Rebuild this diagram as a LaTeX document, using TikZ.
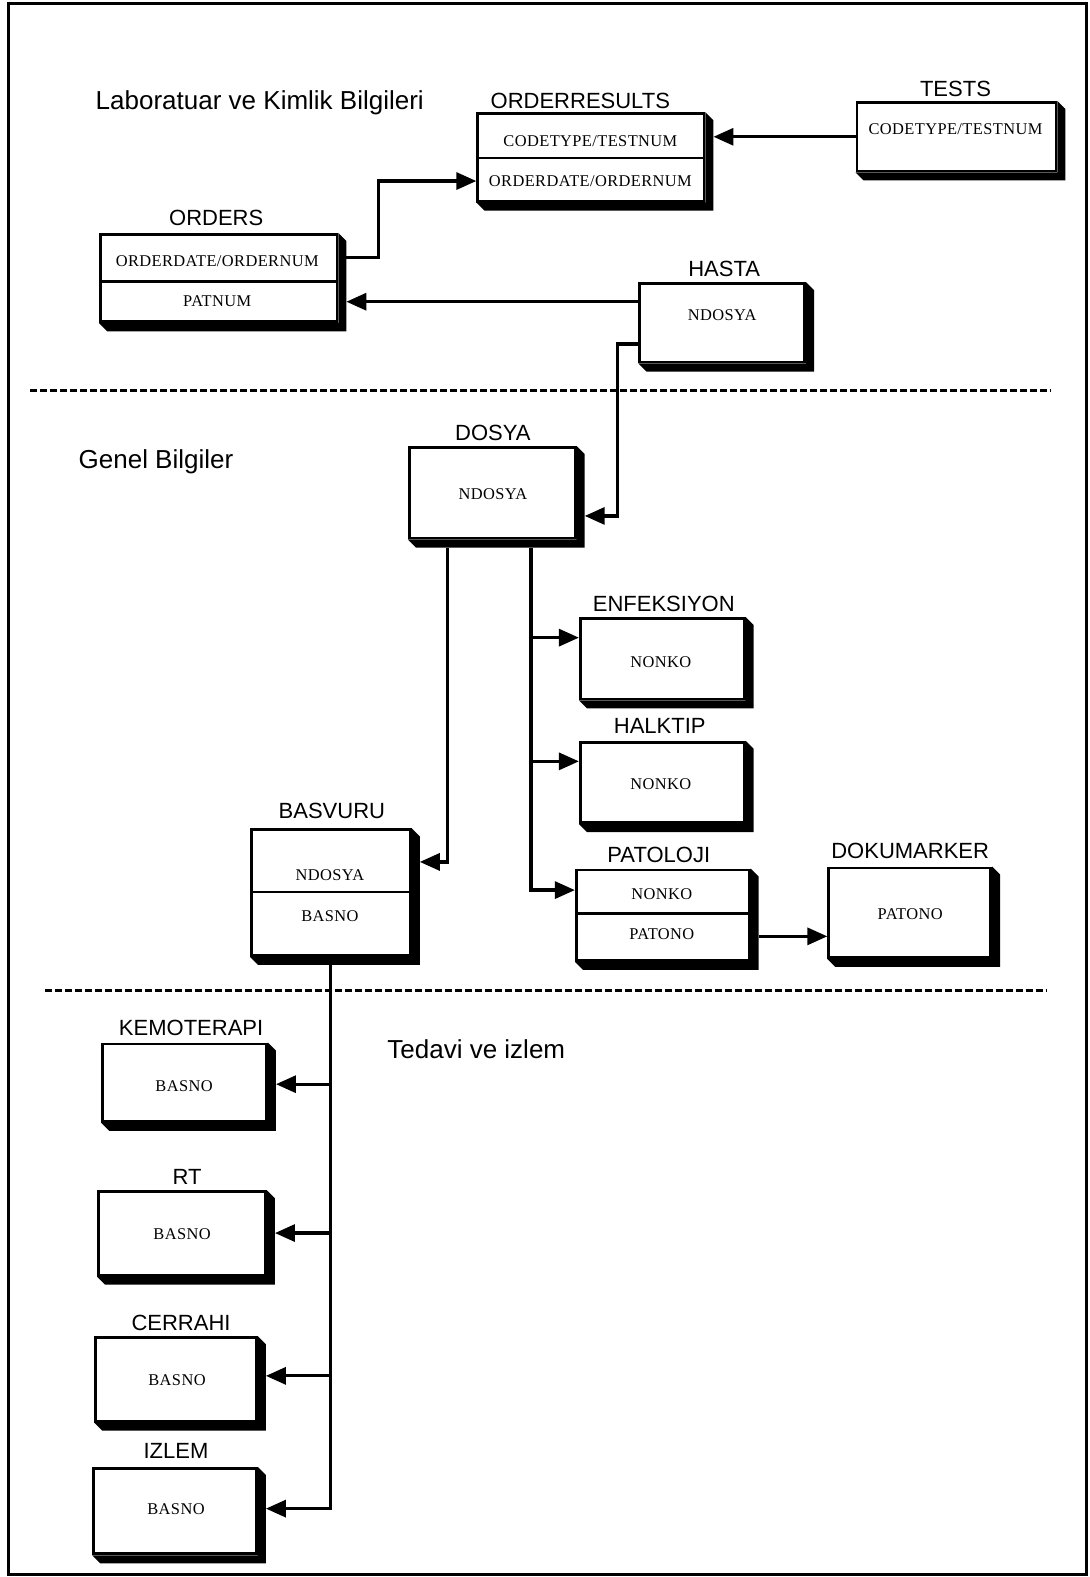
\documentclass[tikz,border=0pt]{standalone}
\usepackage{fontspec}
\setmainfont{Liberation Serif}
\newfontfamily\headfont{Liberation Sans}
\newfontfamily\fieldfont[LetterSpace=2.5]{Liberation Serif}
\usetikzlibrary{arrows.meta,fit,calc}

\tikzset{
  entity/.style={draw, line width=2.8pt, fill=white, inner sep=0pt},
  ttl/.style={font=\headfont\fontsize{22}{24}\selectfont, inner sep=0pt, text depth=0pt},
  fld/.style={font=\fieldfont\fontsize{16.4}{18}\selectfont, inner sep=0pt, text depth=0pt},
  sect/.style={font=\headfont\fontsize{26}{28}\selectfont, inner sep=0pt, text depth=0pt, anchor=west},
  conn/.style={line width=3.2pt, -{Triangle[length=20pt,width=17pt]}},
  divider/.style={line width=2.6pt},
  sepline/.style={line width=2.6pt, dash pattern=on 7pt off 3pt},
}

% black extrusion on the right and bottom of an entity box;
% also defines <name>-x, the outer corner of that extrusion
\newcommand\extrude[1]{%
  \fill (#1.north east) -- ++(8,8) -- ($(#1.south east)+(8,8)$)
        -- ($(#1.south west)+(8,8)$) -- (#1.south west)
        -- (#1.south east) -- cycle;
  \coordinate (#1-x) at ($(#1.south east)+(8,8)$);}

\begin{document}
\begin{tikzpicture}[x=1.0055pt, y=-1.0055pt]
\useasboundingbox (0,0) rectangle (1083,1568);
\fill[white] (0,0) rectangle (1083,1568);
\draw[line width=3pt] (8,3) rectangle (1080,1565);

% section labels and separators
\node[sect] (lab) at (95,100) {Laboratuar ve Kimlik Bilgileri};
\node[sect] (gen) at (78,456) {Genel Bilgiler};
\node[sect] (ted) at (385,1043) {Tedavi ve izlem};
\draw[sepline] (30,388) -- (1045,388);
\draw[sepline] (45,985) -- (1040,985);

% ---------- entities ----------
% ORDERRESULTS
\node[entity, fit={(475,113) (700,200)}] (orderresults) {};
\extrude{orderresults}
\node[ttl] (orderresults-t) at (577,100) {ORDERRESULTS};
\coordinate (orderresults-d) at (0,157);
\draw[divider] (orderresults.west |- orderresults-d) -- (orderresults.east |- orderresults-d);
\node[fld] (orderresults-f1) at (587,140) {CODETYPE/TESTNUM};
\node[fld] (orderresults-f2) at (587,180) {ORDERDATE/ORDERNUM};

% TESTS
\node[entity, fit={(852,102) (1050,170)}] (tests) {};
\extrude{tests}
\node[ttl] (tests-t) at (950,88) {TESTS};
\node[fld] (tests-f1) at (950,128) {CODETYPE/TESTNUM};

% ORDERS
\node[entity, fit={(100,233) (335,320)}] (orders) {};
\extrude{orders}
\node[ttl] (orders-t) at (215,217) {ORDERS};
\coordinate (orders-d) at (0,280);
\draw[divider] (orders.west |- orders-d) -- (orders.east |- orders-d);
\node[fld] (orders-f1) at (216,260) {ORDERDATE/ORDERNUM};
\node[fld] (orders-f2) at (216,299) {PATNUM};

% HASTA
\node[entity, fit={(636,282) (800,360)}] (hasta) {};
\extrude{hasta}
\node[ttl] (hasta-t) at (720,267) {HASTA};
\node[fld] (hasta-f1) at (718,313) {NDOSYA};

% DOSYA
\node[entity, fit={(407,445) (572,535)}] (dosya) {};
\extrude{dosya}
\node[ttl] (dosya-t) at (490,430) {DOSYA};
\node[fld] (dosya-f1) at (490,491) {NDOSYA};

% ENFEKSIYON
\node[entity, fit={(577,615) (740,695)}] (enfeksiyon) {};
\extrude{enfeksiyon}
\node[ttl] (enfeksiyon-t) at (660,600) {ENFEKSIYON};
\node[fld] (enfeksiyon-f1) at (657,658) {NONKO};

% HALKTIP
\node[entity, fit={(577,738) (740,818)}] (halktip) {};
\extrude{halktip}
\node[ttl] (halktip-t) at (656,722) {HALKTIP};
\node[fld] (halktip-f1) at (657,780) {NONKO};

% PATOLOJI
\node[entity, fit={(573,865) (745,955)}] (patoloji) {};
\extrude{patoloji}
\node[ttl] (patoloji-t) at (655,850) {PATOLOJI};
\coordinate (patoloji-d) at (0,908);
\draw[divider] (patoloji.west |- patoloji-d) -- (patoloji.east |- patoloji-d);
\node[fld] (patoloji-f1) at (658,889) {NONKO};
\node[fld] (patoloji-f2) at (658,929) {PATONO};

% DOKUMARKER
\node[entity, fit={(824,863) (985,952)}] (dokumarker) {};
\extrude{dokumarker}
\node[ttl] (dokumarker-t) at (905,846) {DOKUMARKER};
\node[fld] (dokumarker-f1) at (905,909) {PATONO};

% BASVURU
\node[entity, fit={(250,825) (408,950)}] (basvuru) {};
\extrude{basvuru}
\node[ttl] (basvuru-t) at (330,806) {BASVURU};
\coordinate (basvuru-d) at (0,887);
\draw[divider] (basvuru.west |- basvuru-d) -- (basvuru.east |- basvuru-d);
\node[fld] (basvuru-f1) at (328,870) {NDOSYA};
\node[fld] (basvuru-f2) at (328,911) {BASNO};

% KEMOTERAPI
\node[entity, fit={(102,1038) (265,1115)}] (kemoterapi) {};
\extrude{kemoterapi}
\node[ttl] (kemoterapi-t) at (190,1022) {KEMOTERAPI};
\node[fld] (kemoterapi-f1) at (183,1080) {BASNO};

% RT
\node[entity, fit={(98,1185) (264,1268)}] (rt) {};
\extrude{rt}
\node[ttl] (rt-t) at (186,1170) {RT};
\node[fld] (rt-f1) at (181,1227) {BASNO};

% CERRAHI
\node[entity, fit={(95,1330) (255,1413)}] (cerrahi) {};
\extrude{cerrahi}
\node[ttl] (cerrahi-t) at (180,1315) {CERRAHI};
\node[fld] (cerrahi-f1) at (176,1372) {BASNO};

% IZLEM
\node[entity, fit={(93,1460) (255,1545)}] (izlem) {};
\extrude{izlem}
\node[ttl] (izlem-t) at (175,1443) {IZLEM};
\node[fld] (izlem-f1) at (175,1500) {BASNO};

% ---------- connectors ----------
\coordinate (y-tests) at (0,136);
\coordinate (y-ord1) at (0,256);
\coordinate (y-ord2) at (0,180);
\coordinate (y-has1) at (0,300);
\coordinate (y-has2) at (0,342);
\coordinate (y-dos) at (0,513);
\coordinate (y-bas) at (0,857);
\coordinate (y-enf) at (0,634);
\coordinate (y-hal) at (0,757);
\coordinate (y-pat) at (0,885);
\coordinate (y-dok) at (0,931);
\coordinate (y-kem) at (0,1078);
\coordinate (y-rt) at (0,1226);
\coordinate (y-cer) at (0,1368);
\coordinate (y-izl) at (0,1500);
\coordinate (x-left) at (445,0);
\coordinate (x-right) at (528,0);
\coordinate (x-treat) at (329,0);

\draw[conn] (tests.west |- y-tests) -- (orderresults-x |- y-tests);
\draw[conn] (orders-x |- y-ord1) -- ++(32,0) |- (orderresults.west |- y-ord2);
\draw[conn] (hasta.west |- y-has1) -- (orders-x |- y-has1);
\draw[conn] (hasta.west |- y-has2) -- ++(-21,0) |- (dosya-x |- y-dos);

\draw[conn] (x-left |- dosya-x) |- (basvuru-x |- y-bas);
\draw[conn] (x-right |- dosya-x) |- (patoloji.west |- y-pat);
\draw[conn] (x-right |- y-enf) -- (enfeksiyon.west |- y-enf);
\draw[conn] (x-right |- y-hal) -- (halktip.west |- y-hal);
\draw[conn] (patoloji-x |- y-dok) -- (dokumarker.west |- y-dok);

\draw[conn] (x-treat |- basvuru-x) |- (izlem-x |- y-izl);
\draw[conn] (x-treat |- y-kem) -- (kemoterapi-x |- y-kem);
\draw[conn] (x-treat |- y-rt) -- (rt-x |- y-rt);
\draw[conn] (x-treat |- y-cer) -- (cerrahi-x |- y-cer);
\end{tikzpicture}
\end{document}
